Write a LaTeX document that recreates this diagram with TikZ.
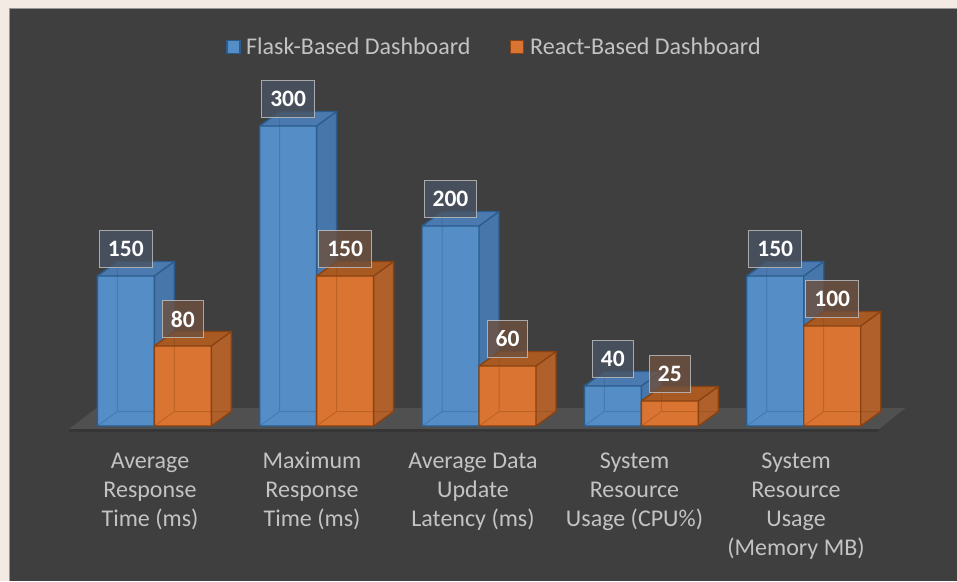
\documentclass[tikz,border=0pt]{standalone}
\usepackage{fontspec}
\setmainfont{Carlito}
\definecolor{pagebg}{RGB}{243,234,228}
\definecolor{plotbg}{RGB}{63,63,63}
\definecolor{plotrim}{RGB}{150,150,150}
\definecolor{floortop}{RGB}{80,80,80}
\definecolor{floorfront}{RGB}{54,54,54}
\definecolor{axistext}{RGB}{195,195,195}
\definecolor{bfront}{RGB}{85,141,199}
\definecolor{bside}{RGB}{70,118,170}
\definecolor{btop}{RGB}{74,122,176}
\definecolor{bedge}{RGB}{43,92,140}
\definecolor{bbox}{RGB}{72,84,98}
\definecolor{ofront}{RGB}{218,116,50}
\definecolor{oside}{RGB}{176,96,42}
\definecolor{otop}{RGB}{168,90,34}
\definecolor{oedge}{RGB}{138,66,16}
\definecolor{obox}{RGB}{110,80,62}

% 3-D column: #1 left x of front face, #2 value, #3 series prefix (b or o)
\newcommand\cuboid[3]{%
  \pgfmathsetmacro\cbL{#1}%
  \pgfmathsetmacro\cbR{#1+57}%
  \pgfmathsetmacro\cbT{426-#2}%
  \fill[#3front] (\cbL,426) rectangle (\cbR,\cbT);
  \fill[#3side] (\cbR,426) -- (\cbR+20,411.5) -- (\cbR+20,\cbT-14.5) -- (\cbR,\cbT) -- cycle;
  \fill[#3top] (\cbL,\cbT) -- (\cbL+20,\cbT-14.5) -- (\cbR+20,\cbT-14.5) -- (\cbR,\cbT) -- cycle;
  \draw[#3edge, opacity=.35, line width=1pt]
    (\cbL,426) -- (\cbL+20,411.5) -- (\cbR+20,411.5)
    (\cbL+20,411.5) -- (\cbL+20,\cbT-14.5);
  \draw[#3edge, line width=1.4pt, line join=round]
    (\cbL,426) rectangle (\cbR,\cbT)
    (\cbR,426) -- (\cbR+20,411.5) -- (\cbR+20,\cbT-14.5) -- (\cbL+20,\cbT-14.5) -- (\cbL,\cbT)
    (\cbR,\cbT) -- (\cbR+20,\cbT-14.5);
}

\tikzset{
  vlab/.style={draw=axistext, draw opacity=.8, fill opacity=.8, text opacity=1,
    text=white, line width=1pt, inner xsep=8.5pt, inner ysep=0pt,
    minimum height=37pt, font=\bfseries\fontsize{23.5}{28}\selectfont},
  catlab/.style={anchor=base, inner sep=0pt, text=axistext,
    font=\fontsize{24}{29.3}\selectfont},
  legsq/.style={minimum size=13pt, inner sep=0pt, line width=1.2pt},
  legtext/.style={anchor=base west, inner sep=0pt, text=axistext,
    font=\fontsize{24}{28}\selectfont}
}

\begin{document}
\begin{tikzpicture}[x=1pt, y=-1pt]
  \useasboundingbox (0,0) rectangle (957,581);
  \fill[pagebg] (0,0) rectangle (957,581);
  \fill[plotbg] (9.5,8) rectangle (957,581);
  \draw[plotrim, line width=1pt] (9.5,581) -- (9.5,8) -- (957,8);

  % floor of the 3-D plot
  \fill[floortop] (69,429) -- (96.5,408) -- (905.5,408) -- (879,429) -- cycle;
  \fill[floorfront] (69,429) rectangle (879,431.5);

  % columns, back to front per category
  \cuboid{97.3}{150}{b}   \cuboid{154.3}{80}{o}
  \cuboid{259.65}{300}{b} \cuboid{316.65}{150}{o}
  \cuboid{422.0}{200}{b}  \cuboid{479.0}{60}{o}
  \cuboid{584.35}{40}{b}  \cuboid{641.35}{25}{o}
  \cuboid{746.7}{150}{b}  \cuboid{803.7}{100}{o}

  % value labels
  \node[vlab, fill=bbox] (v1b) at (125.8,249) {150};
  \node[vlab, fill=obox] (v1o) at (182.8,319) {80};
  \node[vlab, fill=bbox] (v2b) at (288.15,99) {300};
  \node[vlab, fill=obox] (v2o) at (345.15,249) {150};
  \node[vlab, fill=bbox] (v3b) at (450.5,199) {200};
  \node[vlab, fill=obox] (v3o) at (507.5,339) {60};
  \node[vlab, fill=bbox] (v4b) at (612.85,359) {40};
  \node[vlab, fill=obox] (v4o) at (669.85,374) {25};
  \node[vlab, fill=bbox] (v5b) at (775.2,249) {150};
  \node[vlab, fill=obox] (v5o) at (832.2,299) {100};

  % category labels
  \node[catlab] (c1) at (150,468) {\begin{tabular}[t]{@{}c@{}}Average\\Response\\Time (ms)\end{tabular}};
  \node[catlab] (c2) at (312,468) {\begin{tabular}[t]{@{}c@{}}Maximum\\Response\\Time (ms)\end{tabular}};
  \node[catlab] (c3) at (473,468) {\begin{tabular}[t]{@{}c@{}}Average Data\\Update\\Latency (ms)\end{tabular}};
  \node[catlab] (c4) at (634.5,468) {\begin{tabular}[t]{@{}c@{}}System\\Resource\\Usage (CPU\%)\end{tabular}};
  \node[catlab] (c5) at (796,468) {\begin{tabular}[t]{@{}c@{}}System\\Resource\\Usage\\(Memory MB)\end{tabular}};

  % legend
  \node[legsq, draw=bedge, fill=bfront] (lgb) at (233.5,47) {};
  \node[legtext] (lgbt) at (246,54) {Flask-Based Dashboard};
  \node[legsq, draw=oedge, fill=ofront] (lgo) at (517,47) {};
  \node[legtext] (lgot) at (530,54) {React-Based Dashboard};
\end{tikzpicture}
\end{document}
